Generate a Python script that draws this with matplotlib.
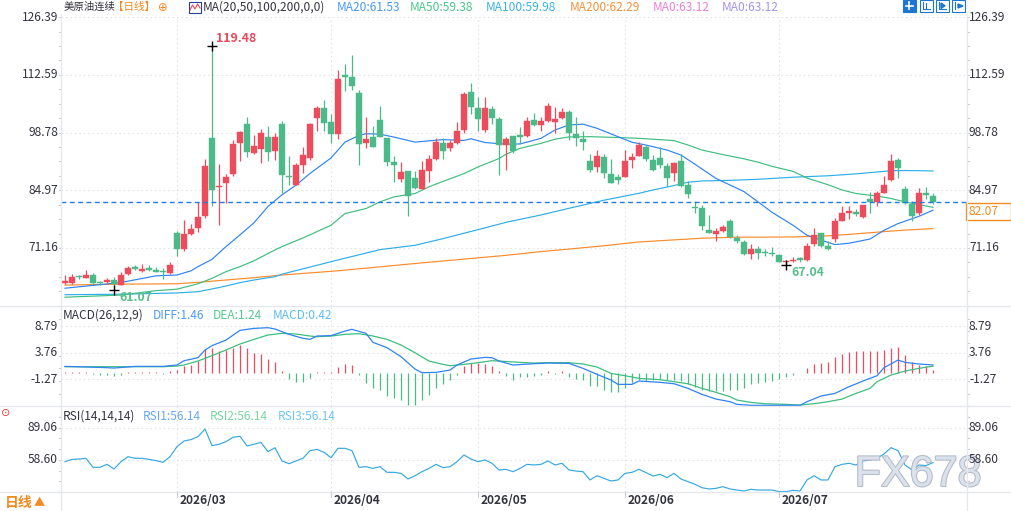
import matplotlib
matplotlib.use('Agg')
import matplotlib.pyplot as plt
import matplotlib.patheffects as pe
from matplotlib.patches import Rectangle

W, H = 1012, 511
FONT = ['Noto Sans CJK SC', 'DejaVu Sans']
plt.rcParams['font.family'] = FONT

# ---------------- data ----------------
opens = [62.78, 62.86, 64.3, 64.06, 64.7, 63.0, 62.94, 63.4, 62.3, 64.86,
         66.5, 65.66, 66.2, 65.97, 65.6, 65.18, 74.67, 70.92, 74.6, 76.03,
         78.8, 97.58, 85.7, 86.65, 88.96, 96.4, 100.85, 93.99, 94.95, 97.66,
         94.3, 100.85, 88.33, 86.33, 90.96, 92.7, 102.3, 104.6, 101.25, 98.46,
         112.5, 112.0, 108.2, 96.2, 97.66, 101.73, 97.4, 91.7, 87.7, 89.5,
         87.85, 85.37, 89.5, 92.4, 96.2, 95.2, 96.4, 99.34, 108.4, 104.6,
         99.4, 104.4, 101.97, 95.9, 97.98, 98.22, 97.98, 101.8, 100.6, 101.57,
         101.4, 102.3, 103.7, 98.46, 97.26, 92.0, 90.6, 92.95, 88.8, 88.16,
         88.24, 92.3, 93.27, 95.35, 92.15, 92.7, 90.8, 89.2, 92.0, 86.25,
         80.98, 80.74, 75.47, 74.6, 75.3, 77.6, 73.5, 72.7, 69.62, 71.0,
         70.2, 70.03, 69.54, 67.8, 68.0, 68.5, 68.17, 72.05, 74.63, 71.64,
         73.26, 77.62, 79.64, 79.88, 78.67, 82.87, 82.2, 84.4, 87.47, 92.32,
         85.2, 81.58, 79.56, 84.32, 83.6]
highs = [64.7, 64.86, 64.8, 65.9, 65.2, 63.3, 63.9, 64.3, 65.3, 66.93,
         67.1, 67.33, 67.1, 66.7, 66.4, 67.7, 75.23, 77.87, 76.9, 82.2,
         92.47, 119.48, 91.3, 88.9, 97.0, 99.26, 102.4, 98.2, 99.65, 100.45,
         98.6, 101.6, 93.1, 91.6, 95.27, 101.1, 105.1, 106.5, 103.17, 113.7,
         115.1, 117.3, 108.9, 102.45, 100.3, 105.2, 97.4, 93.1, 91.68, 89.5,
         89.5, 91.9, 93.5, 97.6, 97.6, 97.1, 101.4, 108.5, 110.6, 107.2,
         107.2, 105.2, 102.5, 97.66, 98.0, 100.05, 102.5, 103.4, 102.4, 105.9,
         104.84, 104.6, 104.2, 102.5, 99.2, 93.6, 94.6, 93.6, 92.5, 88.9,
         94.6, 93.99, 96.6, 95.9, 93.4, 95.4, 91.4, 91.8, 93.6, 87.2,
         82.4, 81.5, 79.06, 75.9, 76.7, 78.1, 74.2, 73.0, 72.13, 71.6,
         70.9, 71.4, 69.8, 68.4, 69.06, 69.06, 72.45, 75.84, 74.8, 72.85,
         78.43, 81.1, 81.1, 80.6, 81.5, 84.5, 84.9, 88.44, 93.6, 92.8,
         86.0, 82.4, 85.45, 85.7, 84.24]
lows = [62.6, 62.54, 63.7, 63.9, 62.5, 62.3, 62.7, 61.07, 62.2, 64.7,
        65.9, 65.5, 65.7, 65.3, 63.7, 64.9, 69.33, 70.5, 74.2, 75.0,
        78.3, 81.2, 76.75, 81.86, 88.4, 92.07, 92.87, 93.7, 91.4, 92.0,
        92.3, 84.4, 86.17, 86.2, 89.2, 92.1, 99.2, 99.2, 96.3, 97.3,
        108.8, 108.9, 91.1, 95.1, 95.3, 97.7, 90.88, 86.97, 86.9, 78.83,
        85.2, 85.3, 86.97, 92.3, 92.5, 94.3, 96.07, 98.78, 103.17, 99.2,
        98.9, 100.8, 88.6, 89.76, 93.83, 95.98, 97.7, 100.4, 99.2, 101.4,
        98.6, 102.05, 97.0, 95.66, 94.7, 89.4, 89.4, 87.8, 86.8, 86.4,
        88.2, 90.24, 93.2, 91.9, 89.6, 90.4, 86.1, 87.3, 85.85, 83.2,
        79.6, 75.55, 74.8, 72.9, 75.1, 73.5, 72.4, 69.6, 68.6, 68.5,
        69.3, 69.2, 67.7, 67.04, 67.9, 67.8, 68.1, 71.6, 71.5, 70.6,
        72.5, 77.5, 78.1, 78.8, 78.3, 79.56, 81.3, 84.4, 87.3, 87.9,
        81.6, 77.6, 79.07, 82.87, 81.6]
closes = [63.26, 64.22, 64.1, 64.7, 62.86, 62.8, 63.5, 62.5, 64.7, 66.3,
          66.2, 66.1, 65.97, 65.5, 65.4, 67.1, 70.92, 74.44, 75.7, 78.6,
          90.9, 84.97, 86.0, 88.24, 96.06, 98.9, 94.07, 95.5, 98.7, 94.2,
          97.74, 88.7, 88.17, 90.96, 93.35, 100.78, 104.6, 101.1, 98.46, 111.55,
          112.1, 109.95, 96.07, 97.3, 95.35, 97.74, 91.76, 91.1, 89.36, 83.6,
          85.53, 89.76, 92.4, 96.47, 94.3, 96.2, 99.1, 107.96, 104.9, 102.05,
          104.6, 102.3, 95.9, 97.2, 94.39, 97.82, 101.57, 100.6, 101.57, 105.16,
          102.05, 103.7, 98.78, 97.58, 96.6, 89.9, 93.2, 89.2, 86.8, 87.5,
          92.0, 92.95, 95.8, 92.55, 89.9, 91.1, 88.0, 91.5, 86.1, 84.0,
          80.74, 76.5, 74.83, 75.2, 76.2, 73.7, 72.77, 69.62, 71.0, 69.9,
          69.95, 69.7, 67.7, 68.1, 68.4, 68.35, 71.6, 74.3, 71.56, 71.0,
          77.54, 79.56, 80.04, 79.4, 81.5, 82.14, 84.3, 86.26, 92.08, 90.22,
          81.82, 78.75, 84.32, 83.76, 82.07]

ma20_idx = [1, 9, 14, 17, 19, 20, 22, 24, 26, 28, 30, 32, 34, 36, 39, 41, 43, 44, 46,
            48, 51, 53, 55, 58, 59, 61, 64, 66, 69, 71, 73, 75, 77, 80, 82, 84, 87,
            89, 91, 94, 97, 98, 100, 102, 105, 107, 110, 111, 113, 116, 118, 120,
            123, 125]
ma20_val = [61.53, 62.9, 64.5, 64.7, 65.7, 66.7, 68.45, 71.5, 74.3, 77.2, 81.1, 83.9,
            86.2, 89.0, 92.7, 96.5, 98.1, 98.5, 98.4, 97.7, 96.5, 96.8, 97.1, 96.9,
            97.3, 96.4, 96.0, 96.06, 97.4, 99.4, 100.6, 100.8, 99.8, 97.8, 96.46,
            95.8, 94.6, 93.4, 91.2, 87.8, 85.45, 84.65, 82.2, 79.7, 76.6, 74.2, 72.5,
            71.97, 72.3, 73.3, 75.4, 77.0, 78.75, 80.2]
ma50_idx = [1, 9, 14, 17, 20, 22, 24, 26, 28, 31, 32, 35, 39, 41, 44, 46, 48, 51, 53,
            55, 58, 60, 63, 64, 66, 69, 71, 73, 76, 80, 83, 85, 88, 90, 92, 95, 98,
            100, 102, 105, 107, 110, 112, 114, 117, 119, 121, 124, 125]
ma50_val = [59.38, 59.9, 60.95, 61.3, 62.6, 63.9, 65.5, 66.7, 68.1, 70.7, 71.5, 73.56,
            76.6, 79.4, 80.6, 82.2, 83.4, 84.2, 85.8, 87.1, 88.96, 90.56, 92.56, 93.6,
            95.0, 96.2, 97.2, 97.74, 97.8, 97.6, 97.4, 97.2, 96.86, 95.8, 94.6, 93.5,
            92.5, 91.7, 90.7, 89.5, 87.9, 86.3, 85.05, 84.2, 83.6, 83.0, 82.2, 81.2,
            80.9]
ma100_idx = [1, 9, 17, 20, 22, 24, 26, 28, 31, 32, 40, 46, 51, 55, 60, 64, 69, 73, 78,
             83, 85, 88, 90, 92, 96, 100, 105, 110, 114, 119, 121, 125]
ma100_val = [59.98, 60.1, 60.4, 60.7, 61.35, 62.07, 62.86, 63.5, 64.3, 64.9, 68.3,
             70.77, 71.8, 73.4, 75.55, 77.3, 79.06, 80.66, 82.6, 84.25, 85.05, 86.1,
             86.9, 87.2, 87.35, 87.6, 88.1, 88.44, 88.9, 89.65, 89.7, 89.6]
ma200_idx = [1, 9, 17, 20, 24, 28, 32, 40, 52, 64, 69, 73, 78, 83, 88, 92, 97, 100,
             105, 110, 114, 119, 121, 125]
ma200_val = [62.29, 62.5, 62.6, 62.94, 63.5, 64.06, 64.7, 65.7, 67.6, 69.4, 70.3, 70.9,
             71.7, 72.6, 73.1, 73.5, 73.75, 73.75, 73.8, 74.07, 74.55, 75.2, 75.44,
             75.8]

diff_idx = [1, 6, 8, 11, 15, 17, 18, 20, 21, 22, 24, 26, 28, 30, 31, 33, 35, 36, 37,
            39, 41, 42, 44, 45, 47, 49, 51, 52, 54, 56, 57, 59, 61, 62, 63, 65, 68,
            70, 73, 75, 77, 79, 80, 82, 83, 86, 88, 90, 92, 94, 96, 97, 99, 106, 107,
            109, 111, 113, 115, 117, 118, 120, 121, 123, 125]
diff_val = [1.19, 1.0, 0.88, 1.19, 1.19, 1.45, 2.26, 2.83, 4.28, 5.1, 6.16, 7.99, 8.36,
            8.49, 8.24, 7.23, 6.48, 6.29, 6.92, 6.98, 7.86, 8.18, 7.42, 5.72, 4.72,
            3.02, 0.69, 0.0, 0.06, 0.5, 1.45, 2.58, 2.89, 2.83, 2.2, 1.45, 1.7, 1.82,
            1.76, 0.82, -0.31, -1.38, -2.2, -2.2, -1.57, -1.82, -2.08, -2.96, -4.09,
            -4.97, -5.47, -5.97, -6.15, -6.15, -5.47, -4.4, -3.9, -2.64, -1.57, -0.57,
            0.94, 2.39, 1.95, 1.64, 1.46]
dea_idx = [1, 15, 17, 18, 20, 22, 24, 26, 28, 30, 32, 34, 36, 37, 39, 41, 43, 45, 47,
           49, 51, 53, 55, 56, 58, 60, 62, 63, 66, 68, 70, 73, 75, 77, 79, 81, 83, 86,
           88, 90, 92, 94, 96, 97, 99, 101, 104, 106, 108, 110, 112, 114, 116, 117,
           119, 121, 123, 125]
dea_val = [1.13, 1.13, 1.26, 1.45, 2.2, 3.21, 4.28, 5.41, 6.29, 7.11, 7.42, 7.3, 6.92,
           6.79, 6.92, 7.23, 7.36, 6.92, 6.29, 5.22, 3.77, 2.2, 1.57, 1.32, 1.57, 1.89,
           2.26, 2.2, 1.95, 1.82, 1.89, 1.89, 1.64, 1.07, -0.13, -0.57, -1.07, -1.32,
           -1.7, -2.08, -2.96, -3.71, -4.53, -5.16, -5.6, -5.85, -5.97, -6.1, -5.85,
           -5.47, -4.97, -3.9, -2.96, -1.7, -0.44, 0.31, 0.82, 1.24]
macd_hist = [0.2, 0.2, 0.2, 0.2, -0.3, -0.5, -0.5, -0.6, -0.45, 0.2,
             0.2, 0.2, 0.2, 0.2, -0.2, 0.3, 0.6, 1.25, 1.45, 2.26,
             4.4, 4.6, 4.0, 4.2, 4.7, 5.2, 4.6, 3.8, 3.5, 2.5,
             2.1, 0.4, -1.2, -1.7, -1.7, -0.95, 0.2, 0.2, 0.1, 1.0,
             1.7, 1.45, -0.5, -1.9, -2.9, -3.3, -4.3, -4.8, -5.2, -6.0,
             -6.0, -5.1, -4.2, -2.9, -2.1, -1.3, -0.5, 1.35, 1.8, 1.8,
             1.6, 1.3, 0.4, -0.65, -1.3, -0.85, -0.8, -0.65, -0.35, 0.4,
             -0.2, 0.4, -0.85, -1.1, -1.3, -2.5, -2.5, -3.2, -3.6, -3.7,
             -2.9, -2.0, -1.3, -1.5, -1.3, -1.2, -1.3, -1.3, -1.5, -2.2,
             -2.7, -3.2, -3.5, -3.4, -3.4, -3.3, -3.2, -2.9, -2.2, -2.0,
             -1.7, -1.5, -1.1, -0.85, -0.5, -0.15, 0.9, 1.65, 1.8, 1.95,
             2.9, 3.5, 3.9, 4.0, 4.0, 4.1, 4.1, 4.3, 4.7, 4.9,
             3.3, 2.1, 1.45, 1.25, 0.42]
rsi_vals = [57.0, 59.2, 59.5, 60.2, 51.7, 51.7, 54.5, 50.1, 57.0, 61.7,
            60.2, 60.2, 59.2, 58.0, 56.4, 61.7, 71.2, 76.5, 77.8, 80.6,
            87.8, 72.1, 73.4, 75.9, 80.0, 80.9, 71.8, 73.4, 75.2, 66.45,
            70.2, 57.7, 55.1, 57.7, 60.2, 67.4, 68.6, 65.8, 60.8, 69.6,
            69.6, 67.4, 51.7, 52.3, 50.7, 52.3, 47.0, 47.0, 46.0, 40.7,
            43.8, 47.6, 50.7, 54.5, 51.4, 52.3, 57.0, 63.3, 59.5, 57.0,
            58.6, 55.5, 49.2, 49.8, 47.6, 50.7, 54.5, 53.9, 54.5, 57.7,
            53.9, 55.5, 49.2, 48.2, 47.6, 39.8, 43.8, 41.3, 38.8, 39.8,
            46.0, 47.0, 49.8, 46.7, 43.5, 45.1, 42.0, 46.0, 40.7, 38.2,
            35.7, 32.5, 31.3, 31.9, 33.5, 31.3, 30.3, 29.4, 31.0, 30.3,
            30.3, 30.3, 28.8, 28.8, 30.0, 29.4, 39.8, 43.8, 39.8, 39.8,
            52.3, 54.5, 55.5, 53.9, 57.7, 58.6, 60.2, 64.3, 70.2, 67.4,
            53.9, 49.2, 53.9, 53.3, 56.14]

price_ticks = [126.39, 112.59, 98.78, 84.97, 71.16]
macd_ticks = [8.79, 3.76, -1.27]
rsi_ticks = [89.06, 58.60]
month_labels = ['2026/03', '2026/04', '2026/05', '2026/06', '2026/07']
month_start_idx = [17, 39, 60, 81, 103]
last_price = 82.07
high_mark = (22, 119.48)
low_marks = [(8, 61.07), (104, 67.04)]

# ---------------- styling ----------------
RED = '#ee4c5c'
GREEN = '#4cba88'
C_MA20 = '#2f83f2'
C_MA50 = '#3dbe7e'
C_MA100 = '#2eaee8'
C_MA200 = '#fa8a2c'
C_DIFF = '#2f83f2'
C_DEA = '#3dbe7e'
C_RSI = '#35a8e2'
TXT = '#333340'
GRID = '#e2e4e8'

fig = plt.figure(figsize=(W / 100, H / 100), dpi=100)
fig.patch.set_facecolor('white')


def fx(x):
    return x / W


def fy(y):
    return 1 - y / H


XL, XR = 61, 967
X0 = 1 - 4 / 7
X1 = 1 + (XR - 65) / 7


def make_ax(top, bottom, ylim):
    a = fig.add_axes([fx(XL), fy(bottom), (XR - XL) / W, (bottom - top) / H])
    a.set_xlim(X0, X1)
    a.set_ylim(*ylim)
    a.set_facecolor('none')
    for s in a.spines.values():
        s.set_visible(False)
    a.set_xticks([])
    a.set_yticks([])
    return a


ax = make_ax(17.2, 305.7, (57.35, 126.39))
axm = make_ax(306, 406, (-6.28, 12.58))
axr = make_ax(406, 492, (28.46, 109.46))

# grid lines
for a, ticks in ((ax, price_ticks), (axm, macd_ticks), (axr, rsi_ticks)):
    for t in ticks:
        a.axhline(t, color=GRID, lw=0.8, ls=(0, (1.5, 2.5)), zorder=0)
    for m in month_start_idx:
        a.axvline(m, color=GRID, lw=0.8, ls=(0, (1.5, 2.5)), zorder=0)

# separators and axis lines (figure coords)
for y in (305.5, 406, 492):
    fig.add_artist(plt.Line2D([0, 1], [fy(y), fy(y)], color='#e4e7eb', lw=0.9))
for x in (XL, XR):
    fig.add_artist(plt.Line2D([fx(x), fx(x)], [fy(14), fy(511)], color='#e4e7eb', lw=0.9))
# minor ticks on axes
for a, lo, hi, n in ((ax, 57.35, 126.39, 20), (axm, -6.28, 12.58, 8), (axr, 28.46, 109.46, 8)):
    step = (hi - lo) / n
    for k in range(n + 1):
        v = lo + k * step
        a.plot([X0 - 0.35, X0], [v, v], color='#c9ced6', lw=0.8, clip_on=False)
        a.plot([X1, X1 + 0.35], [v, v], color='#c9ced6', lw=0.8, clip_on=False)

# candles
for i, (o, h, l, c) in enumerate(zip(opens, highs, lows, closes), start=1):
    col = RED if c >= o else GREEN
    ax.vlines(i, l, h, color=col, lw=0.9, zorder=3)
    bot = min(o, c)
    hgt = max(abs(c - o), 0.3)
    ax.add_patch(Rectangle((i - 0.36, bot), 0.72, hgt, facecolor=col, edgecolor=col,
                           lw=0.3, zorder=4))

# moving averages
ax.plot(ma200_idx, ma200_val, color=C_MA200, lw=0.85, zorder=2)
ax.plot(ma100_idx, ma100_val, color=C_MA100, lw=0.85, zorder=2)
ax.plot(ma50_idx, ma50_val, color=C_MA50, lw=0.85, zorder=2)
ax.plot(ma20_idx, ma20_val, color=C_MA20, lw=0.85, zorder=2)

# last price dashed line
ax.axhline(last_price, color='#1f7de6', lw=1.0, ls=(0, (3.5, 2.5)), zorder=5)

# high / low markers
ax.plot(*high_mark, marker='+', color='black', ms=7, mew=1.0, zorder=6)
ax.annotate(f'{high_mark[1]:.2f}', high_mark, xytext=(4, 8), textcoords='offset pixels',
            color='#e8485a', fontsize=8.8, fontweight='bold', va='center', ha='left',
            zorder=7)
for (mi, mv) in low_marks:
    ax.plot(mi, mv, marker='+', color='black', ms=7, mew=1.0, zorder=6)
    ax.annotate(f'{mv:.2f}', (mi, mv), xytext=(5, -7), textcoords='offset pixels',
                color='#56c08c', fontsize=8.8, fontweight='bold', va='center', ha='left',
                zorder=7, annotation_clip=False)

# MACD
for i, v in enumerate(macd_hist, start=1):
    axm.vlines(i, 0, v, color=RED if v > 0 else GREEN, lw=0.9, zorder=2)
axm.plot(dea_idx, dea_val, color=C_DEA, lw=0.9, zorder=3)
axm.plot(diff_idx, diff_val, color=C_DIFF, lw=0.9, zorder=3)

# RSI
axr.plot(range(1, len(rsi_vals) + 1), rsi_vals, color=C_RSI, lw=0.85, zorder=3)

# ---------------- texts ----------------
FS = 8.6


def ftext(x, y, s, color=TXT, size=FS, ha='left', weight='normal', z=5, **kw):
    return fig.text(fx(x), fy(y), s, color=color, fontsize=size, ha=ha, va='center',
                    fontweight=weight, zorder=z, **kw)


# watermark (behind the axis labels)
fig.text(fx(918), fy(475), 'FX678', fontsize=31, ha='center', va='center',
         family=['Liberation Sans', 'DejaVu Sans'], color='#dde3ec', alpha=0.95,
         path_effects=[pe.withStroke(linewidth=1.5, foreground='#aeb8c6')], zorder=1)

# axis tick labels
for a_ticks, a in ((price_ticks, ax), (macd_ticks, axm), (rsi_ticks, axr)):
    for t in a_ticks:
        disp = a.transData.transform((X0, t))
        yy = H - disp[1]
        ftext(58, yy, f'{t:.2f}', ha='right')
        ftext(969, yy, f'{t:.2f}', ha='left', z=6)

# month labels + ticks
for lbl, m in zip(month_labels, month_start_idx):
    xp = 65 + 7 * (m - 1)
    ftext(xp + 3, 500.5, lbl, weight='bold', size=8.6)
    fig.add_artist(plt.Line2D([fx(xp), fx(xp)], [fy(492), fy(497)], color='#c9ced6', lw=0.8))

# last price box on the right
fig.add_artist(Rectangle((fx(966), fy(220)), 45 / W, 17 / H, transform=fig.transFigure,
                         facecolor='white', edgecolor='#f58a1f', lw=1.0))
ftext(969, 211.5, f'{last_price:.2f}', color='#f58a1f')

# top legend row
ftext(64, 7, '美原油连续', size=7.5)
ftext(113, 7, '【日线】', color='#f5891f', size=7.6)
ftext(158, 7.5, '⊕', color='#f5891f', size=8.4, family=['DejaVu Sans'])
fig.add_artist(Rectangle((fx(189), fy(13)), 12 / W, 11 / H, transform=fig.transFigure,
                         facecolor='white', edgecolor='#24409a', lw=0.8))
fig.add_artist(plt.Line2D([fx(190), fx(192.5), fx(195), fx(197.5), fx(200)],
                          [fy(10), fy(5), fy(9), fy(4), fy(8)], color='#e8485a', lw=0.8))
ftext(203, 7, 'MA(20,50,100,200,0,0)')
legend_items = [(337, 'MA20:61.53', '#4598f2'), (410, 'MA50:59.38', '#4cc68a'),
                (486, 'MA100:59.98', '#3ab2e8'), (570, 'MA200:62.29', '#f5913a'),
                (653, 'MA0:63.12', '#ea80d8'), (722, 'MA0:63.12', '#a393f2')]
for x, s, c in legend_items:
    ftext(x, 7, s, color=c)

# top-right tool icons
fig.add_artist(Rectangle((fx(903), fy(12)), 13 / W, 12 / H, transform=fig.transFigure,
                         facecolor='#1c76d2', edgecolor='#1c76d2', lw=0.8))
fig.add_artist(plt.Line2D([fx(906), fx(913)], [fy(6), fy(6)], color='white', lw=1.2))
fig.add_artist(plt.Line2D([fx(909.5), fx(909.5)], [fy(2.5), fy(9.5)], color='white', lw=1.2))
for x0 in (920, 936, 952):
    fig.add_artist(Rectangle((fx(x0), fy(12)), 13 / W, 12 / H, transform=fig.transFigure,
                             facecolor='white', edgecolor='#1c76d2', lw=0.8))
fig.add_artist(plt.Line2D([fx(923), fx(923), fx(930)], [fy(2.5), fy(9.5), fy(9.5)],
                          color='#1c76d2', lw=0.8))
fig.add_artist(plt.Line2D([fx(926), fx(926)], [fy(3), fy(8)], color='#1c76d2', lw=0.8))
fig.add_artist(plt.Line2D([fx(939), fx(939), fx(946)], [fy(2.5), fy(9.5), fy(9.5)],
                          color='#1c76d2', lw=0.8))
fig.add_artist(plt.Polygon([(fx(941), fy(3)), (fx(941), fy(8.5)), (fx(945), fy(5.7))],
                           closed=True, transform=fig.transFigure, color='#1c76d2'))
fig.add_artist(plt.Line2D([fx(955), fx(955)], [fy(2.5), fy(9.5)], color='#1c76d2', lw=0.8))
fig.add_artist(plt.Polygon([(fx(958), fy(4)), (fx(958), fy(8)), (fx(963), fy(6))],
                           closed=True, transform=fig.transFigure, color='#1c76d2'))

# MACD legend
ftext(63, 315, 'MACD(26,12,9)')
ftext(153, 315, 'DIFF:1.46', color='#4c9cf2')
ftext(213, 315, 'DEA:1.24', color='#55c88e')
ftext(273, 315, 'MACD:0.42', color='#5cbcef')

# RSI legend
ftext(63, 416, 'RSI(14,14,14)')
ftext(143, 416, 'RSI1:56.14', color='#68a6f3')
ftext(210, 416, 'RSI2:56.14', color='#78d4a2')
ftext(278, 416, 'RSI3:56.14', color='#6fc6ef')
ftext(1, 413, '⊙', color='#e83b3b', size=8, family=['DejaVu Sans'])

# bottom-left period selector
ftext(5, 503, '日线', color='#f5891f', size=10, weight='bold')
ftext(34, 503, '▲', color='#f5891f', size=8)

fig.savefig('out.png', dpi=100, facecolor='white')
